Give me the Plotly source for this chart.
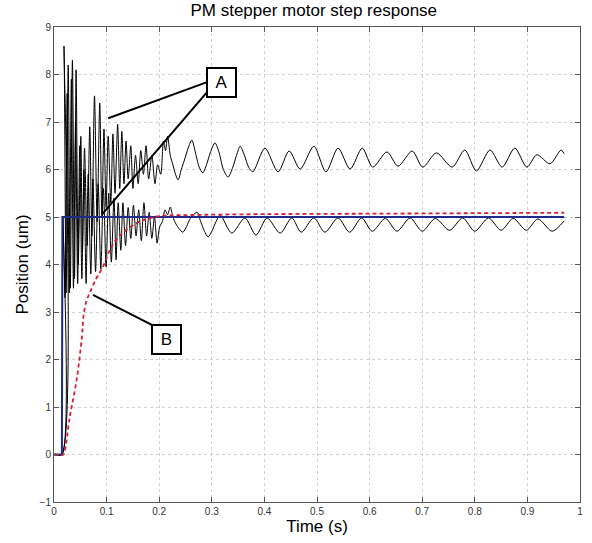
import plotly.graph_objects as go

# ---- data ----
upper_t = [0.000, 0.015, 0.019, 0.023, 0.027, 0.031, 0.035, 0.039, 0.042, 0.046,
           0.051, 0.054, 0.058, 0.063, 0.068, 0.072, 0.077, 0.082, 0.087, 0.091,
           0.095, 0.099, 0.103, 0.108, 0.112, 0.116, 0.121, 0.125, 0.129, 0.133,
           0.137, 0.141, 0.146, 0.150, 0.155, 0.160, 0.165, 0.170, 0.175, 0.180,
           0.186, 0.192, 0.197, 0.203, 0.208, 0.212, 0.216, 0.221, 0.226, 0.231,
           0.236, 0.242, 0.248, 0.255, 0.262, 0.270, 0.276, 0.283, 0.290, 0.297,
           0.306, 0.314, 0.322, 0.331, 0.340, 0.347, 0.354, 0.362, 0.370, 0.378,
           0.401, 0.426, 0.447, 0.468, 0.494, 0.517, 0.540, 0.563, 0.586, 0.606,
           0.633, 0.654, 0.681, 0.701, 0.727, 0.757, 0.781, 0.803, 0.829, 0.852,
           0.876, 0.899, 0.918, 0.943, 0.964, 0.970]
upper_y = [0.00, 0.00, 8.60, 3.40, 8.20, 3.50, 8.30, 3.70, 8.10, 4.00,
           6.70, 4.30, 6.45, 4.40, 6.90, 4.60, 7.55, 4.90, 7.40, 5.00,
           6.85, 5.20, 6.70, 5.30, 6.75, 5.50, 6.95, 5.60, 6.80, 5.70,
           6.60, 5.80, 6.50, 5.60, 6.30, 5.70, 6.40, 5.90, 6.50, 5.80,
           6.30, 5.70, 6.10, 5.90, 6.60, 6.40, 6.70, 6.30, 6.10, 5.90,
           5.78, 6.00, 6.20, 6.45, 6.62, 6.30, 6.05, 5.93, 6.10, 6.35,
           6.56, 6.35, 6.00, 5.84, 6.05, 6.30, 6.49, 6.30, 6.05, 5.95,
           6.45, 5.95, 6.39, 6.01, 6.49, 5.95, 6.45, 6.01, 6.45, 6.05,
           6.37, 6.07, 6.39, 6.05, 6.35, 6.05, 6.41, 5.97, 6.41, 6.05,
           6.45, 6.05, 6.31, 6.12, 6.41, 6.33]

lower_t = [0.000, 0.015, 0.017, 0.021, 0.025, 0.029, 0.033, 0.037, 0.041, 0.045,
           0.049, 0.053, 0.057, 0.061, 0.065, 0.070, 0.074, 0.079, 0.084, 0.089,
           0.094, 0.099, 0.104, 0.109, 0.114, 0.118, 0.122, 0.127, 0.131, 0.136,
           0.141, 0.146, 0.151, 0.156, 0.161, 0.166, 0.171, 0.176, 0.181, 0.186,
           0.191, 0.196, 0.201, 0.206, 0.211, 0.216, 0.221, 0.226, 0.232, 0.238,
           0.245, 0.252, 0.258, 0.265, 0.272, 0.279, 0.286, 0.293, 0.300, 0.308,
           0.316, 0.338, 0.363, 0.384, 0.405, 0.430, 0.452, 0.470, 0.494, 0.515,
           0.540, 0.562, 0.585, 0.605, 0.630, 0.652, 0.677, 0.700, 0.725, 0.752,
           0.777, 0.800, 0.826, 0.850, 0.873, 0.898, 0.920, 0.947, 0.970]
lower_y = [0.00, 0.00, 5.00, 3.30, 7.60, 3.40, 7.90, 3.50, 7.00, 3.60,
           6.50, 3.70, 6.00, 3.60, 5.90, 3.80, 5.80, 3.85, 5.70, 3.90,
           5.60, 3.95, 5.50, 4.05, 5.40, 4.10, 5.30, 4.30, 5.30, 4.40,
           5.20, 4.55, 5.25, 4.60, 5.15, 4.50, 5.30, 4.60, 5.10, 4.55,
           5.00, 4.45, 4.80, 4.90, 5.15, 5.05, 5.21, 5.00, 4.85, 4.75,
           4.68, 4.80, 4.95, 5.05, 5.10, 4.90, 4.70, 4.58, 4.70, 4.90,
           5.04, 4.66, 4.98, 4.62, 4.98, 4.66, 4.98, 4.68, 4.98, 4.68,
           4.98, 4.68, 4.98, 4.70, 4.97, 4.70, 4.98, 4.70, 4.97, 4.72,
           4.98, 4.70, 4.98, 4.72, 4.97, 4.72, 4.96, 4.70, 4.92]

blue_t = [0.000, 0.015, 0.016, 0.970]
blue_y = [0.0, 0.0, 5.0, 5.0]

red_t = [0.000, 0.018, 0.021, 0.030, 0.043, 0.053, 0.056, 0.062, 0.068, 0.080,
         0.093, 0.106, 0.120, 0.140, 0.158, 0.180, 0.200, 0.250, 0.400, 0.600,
         0.800, 0.970]
red_y = [0.00, 0.00, 0.10, 0.79, 1.57, 2.47, 2.90, 3.25, 3.40, 3.70,
         3.95, 4.30, 4.55, 4.75, 4.88, 4.97, 5.02, 5.04, 5.06, 5.07,
         5.08, 5.09]

x_ticks = [0, 0.1, 0.2, 0.3, 0.4, 0.5, 0.6, 0.7, 0.8, 0.9, 1]
x_tick_labels = ["0", "0.1", "0.2", "0.3", "0.4", "0.5", "0.6", "0.7", "0.8", "0.9", "1"]
y_ticks = [-1, 0, 1, 2, 3, 4, 5, 6, 7, 8, 9]

FONT = "Liberation Sans, Arial, sans-serif"

fig = go.Figure()
fig.add_trace(go.Scatter(x=upper_t, y=upper_y, mode="lines",
                         line=dict(color="black", width=1, shape="spline", smoothing=0.8)))
fig.add_trace(go.Scatter(x=lower_t, y=lower_y, mode="lines",
                         line=dict(color="black", width=1, shape="spline", smoothing=0.8)))
fig.add_trace(go.Scatter(x=blue_t, y=blue_y, mode="lines",
                         line=dict(color="#1f2a8a", width=2)))
fig.add_trace(go.Scatter(x=red_t, y=red_y, mode="lines",
                         line=dict(color="#d0203a", width=1.8, dash="4px,3px", shape="spline")))

# annotation leader lines
line_style = dict(color="black", width=2)
fig.add_shape(type="line", x0=0.291, y0=7.84, x1=0.103, y1=7.08, line=line_style)
fig.add_shape(type="line", x0=0.291, y0=7.63, x1=0.091, y1=5.05, line=line_style)
fig.add_shape(type="line", x0=0.186, y0=2.73, x1=0.074, y1=3.36, line=line_style)

box_font = dict(family=FONT, size=17, color="black")
fig.add_annotation(x=0.319, y=7.84, text="A", showarrow=False, font=box_font,
                   bordercolor="black", borderwidth=2, borderpad=4, bgcolor="white",
                   width=19, height=19)
fig.add_annotation(x=0.213, y=2.42, text="B", showarrow=False, font=box_font,
                   bordercolor="black", borderwidth=2, borderpad=4, bgcolor="white",
                   width=19, height=19)

axis_common = dict(showline=True, linecolor="#555", linewidth=1, mirror="ticks",
                   ticks="inside", ticklen=5, tickcolor="#555",
                   showgrid=True, gridcolor="#d2d2d2", griddash="dot", gridwidth=1,
                   zeroline=False, automargin=False,
                   tickfont=dict(family=FONT, size=10, color="#333"))

fig.update_layout(
    width=592, height=543,
    margin=dict(l=54, r=12, t=27, b=41),
    paper_bgcolor="white", plot_bgcolor="white",
    showlegend=False,
    title=dict(text="PM stepper motor step response", x=0.53, xanchor="center",
               y=0.982, yanchor="middle",
               font=dict(family=FONT, size=17, color="black")),
    xaxis=dict(range=[0, 1], tickvals=x_ticks, ticktext=x_tick_labels,
               title=dict(text="Time (s)", standoff=2,
                          font=dict(family=FONT, size=17, color="black")),
               **axis_common),
    yaxis=dict(range=[-1, 9], tickvals=y_ticks,
               title=dict(text="Position (um)", standoff=6,
                          font=dict(family=FONT, size=17, color="black")),
               **axis_common),
)

fig.write_html("out.html", config={"displayModeBar": False},
               post_script="document.body.style.margin='0px';")
